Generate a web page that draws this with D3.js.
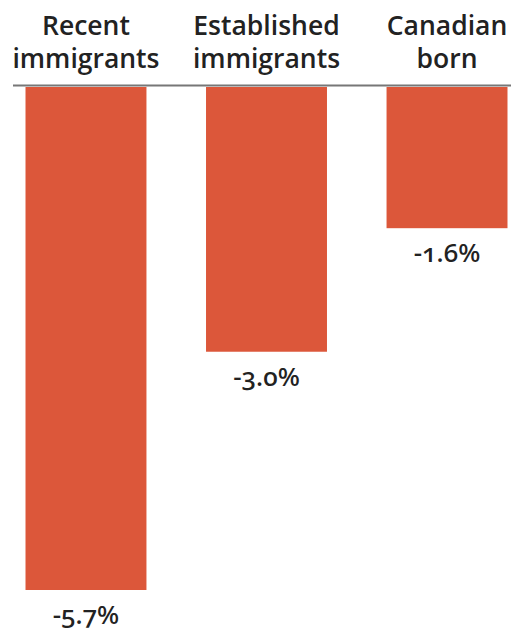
<!DOCTYPE html>
<html>
<head>
<meta charset="utf-8">
<script src="https://cdn.jsdelivr.net/npm/d3@7"></script>
<style>
  body { margin: 0; background: #fff; }
  text { font-family: "Open Sans", Lato, sans-serif; fill: #222; }
  .val { font-family: "Noto Sans", "Open Sans", sans-serif; font-feature-settings: "onum" 1; font-variant-numeric: oldstyle-nums; }
</style>
</head>
<body>
<div id="chart"></div>
<script>
var groups = ["Recent immigrants", "Established immigrants", "Canadian born"];
var headLines = [["Recent", "immigrants"], ["Established", "immigrants"], ["Canadian", "born"]];
var values = [-5.7, -3.0, -1.6];
var valueLabels = ["-5.7%", "-3.0%", "-1.6%"];

var width = 511, height = 632;
var base = 87;

var svg = d3.select("#chart").append("svg")
  .attr("width", width)
  .attr("height", height);

var x = d3.scaleBand()
  .domain(groups)
  .range([-10.6, 543.6])
  .paddingInner(0.33)
  .paddingOuter(0.2);

var y = d3.scaleLinear()
  .domain([0, -5.7])
  .range([base, 590]);

// header labels, one text per line
groups.forEach(function(g, i) {
  svg.selectAll(".head" + i)
    .data(headLines[i])
    .enter().append("text")
    .attr("class", "head head" + i)
    .attr("text-anchor", "middle")
    .attr("font-size", 26.5)
    .attr("font-weight", 600)
    .attr("x", x(g) + x.bandwidth() / 2)
    .attr("y", function(d, j) { return 35 + j * 33; })
    .text(function(d) { return d; });
});

// bars
svg.selectAll(".bar")
  .data(values)
  .enter().append("rect")
  .attr("class", "bar")
  .attr("x", function(d, i) { return x(groups[i]); })
  .attr("y", y(0))
  .attr("width", x.bandwidth())
  .attr("height", function(d) { return y(d) - y(0); })
  .attr("fill", "#dc573a");

// baseline
svg.append("line")
  .attr("x1", 13).attr("x2", width)
  .attr("y1", base - 1.5).attr("y2", base - 1.5)
  .attr("stroke", "#777")
  .attr("stroke-width", 2);

// value labels
svg.selectAll(".val")
  .data(values)
  .enter().append("text")
  .attr("class", "val")
  .attr("text-anchor", "middle")
  .attr("font-size", 26)
  .attr("font-weight", 500)
  .attr("x", function(d, i) { return x(groups[i]) + x.bandwidth() / 2; })
  .attr("y", function(d) { return y(d) + 34; })
  .text(function(d, i) { return valueLabels[i]; });
</script>
</body>
</html>
